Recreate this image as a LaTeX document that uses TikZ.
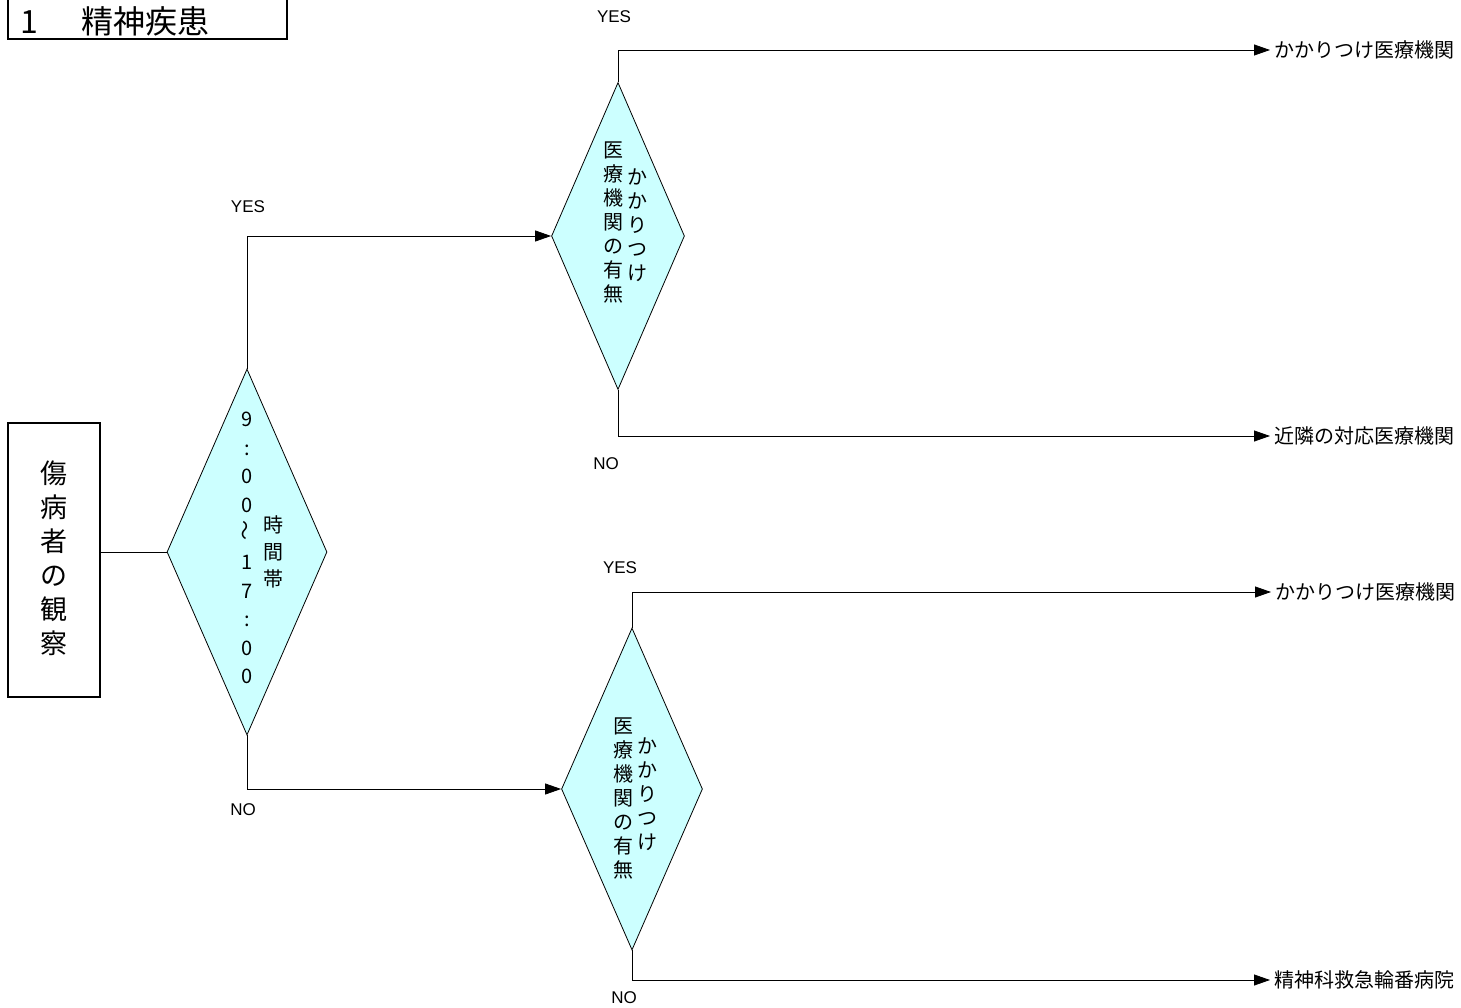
\documentclass[tikz,border=0pt]{standalone}
\usepackage{fontspec}
\usepackage{graphicx}
\setmainfont{Liberation Sans}
\newfontfamily\cjk{Noto Sans CJK JP}
\usetikzlibrary{shapes.geometric,arrows.meta}
\definecolor{dfill}{RGB}{204,255,255}
\begin{document}
\begin{tikzpicture}[x=1pt,y=-1pt,
  dia/.style={draw,fill=dfill,diamond,inner sep=0pt,line width=0.8pt},
  box/.style={draw,line width=1.6pt,inner sep=0pt},
  conn/.style={line width=0.8pt},
  arr/.style={conn,-{Triangle[length=16pt,width=11pt]}},
  vcol/.style={align=center,inner sep=0pt,font=\cjk\fontsize{20}{24}\selectfont},
  lbl/.style={font=\fontsize{17}{20}\selectfont,inner sep=0pt},
  dest/.style={anchor=west,inner xsep=4pt,inner ysep=1pt,font=\cjk\fontsize{20}{24}\selectfont}]
\useasboundingbox (0,0) rectangle (1461,1008);

% title
\draw[line width=1.6pt] (8,-5) rectangle (287,39);
\node[anchor=west,inner sep=0pt,font=\cjk\fontsize{32}{36}\selectfont] (title) at (20,21) {1\hspace{44pt}精神疾患};

% observation box
\node[box,minimum width=92pt,minimum height=274pt] (obs) at (54,560) {};
\node[vcol,font=\cjk\fontsize{27}{34}\selectfont] (obst) at (54,558) {傷\\病\\者\\の\\観\\察};

% diamonds
\node[dia,minimum width=160pt,minimum height=366pt] (d1) at (247,552) {};
\node[dia,minimum width=133pt,minimum height=307pt] (d2) at (618,236) {};
\node[dia,minimum width=141pt,minimum height=322pt] (d3) at (632,789) {};

% diamond texts
\node[vcol,font=\cjk\fontsize{20}{28.6}\selectfont] (d1a) at (247,548) {9\\:\\0\\0\\\rotatebox{90}{〜}\\1\\7\\:\\0\\0};
\node[vcol,font=\cjk\fontsize{20}{27}\selectfont] (d1b) at (273,552) {時\\間\\帯};
\node[vcol] (d2a) at (613,222) {医\\療\\機\\関\\の\\有\\無};
\node[vcol] (d2b) at (637,225) {か\\か\\り\\つ\\け};
\node[vcol] (d3a) at (623,798) {医\\療\\機\\関\\の\\有\\無};
\node[vcol] (d3b) at (647,794) {か\\か\\り\\つ\\け};

% destinations
\node[dest] (e1) at (1270,50) {かかりつけ医療機関};
\node[dest] (e2) at (1270,436) {近隣の対応医療機関};
\node[dest] (e3) at (1271,592) {かかりつけ医療機関};
\node[dest] (e4) at (1270,980) {精神科救急輪番病院};

% connectors
\draw[conn] (d1.west -| obs.east) -- (d1.west);
\draw[arr] (d1.north) |- (d2.west);
\draw[arr] (d1.south) |- (d3.west);
\draw[arr] (d2.north) |- (e1.west);
\draw[arr] (d2.south) |- (e2.west);
\draw[arr] (d3.north) |- (e3.west);
\draw[arr] (d3.south) |- (e4.west);

% labels
\node[lbl] (y1) at (248,207) {YES};
\node[lbl] (n1) at (243,810) {NO};
\node[lbl] (y2) at (614,17) {YES};
\node[lbl] (n2) at (606,464) {NO};
\node[lbl] (y3) at (620,568) {YES};
\node[lbl] (n3) at (624,998) {NO};
\end{tikzpicture}
\end{document}
